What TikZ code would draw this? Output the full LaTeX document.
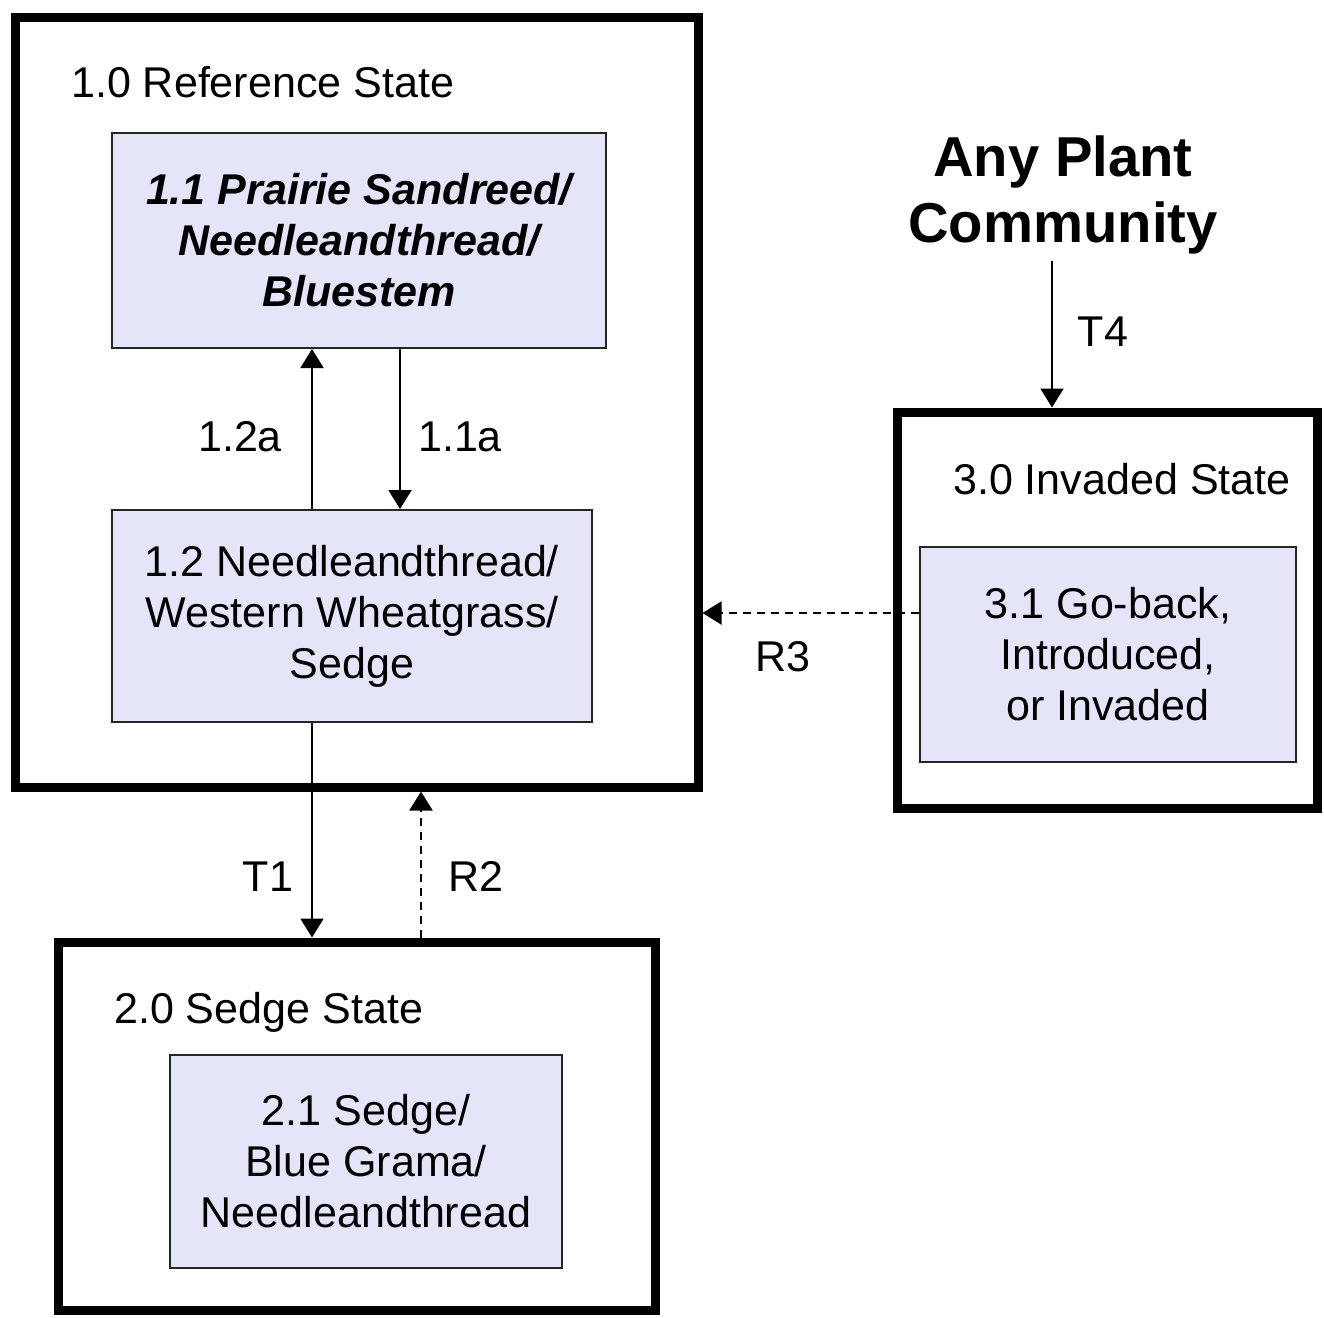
\documentclass[tikz,border=0pt]{standalone}
\usepackage{fontspec}
\setmainfont{Liberation Sans}
\usetikzlibrary{arrows.meta}
\definecolor{lavender}{RGB}{229,229,250}
\tikzset{
	statebox/.style={draw=black, line width=1.8mm, inner sep=0pt},
	commbox/.style={draw=black!85, fill=lavender, line width=0.4mm, align=center, inner sep=0pt, font=\fontsize{24.5}{29}\selectfont},
	lbl/.style={font=\fontsize{24.5}{29}\selectfont},
	trans/.style={-{Triangle[width=4.6mm,length=3.8mm]}, line width=0.4mm},
	rest/.style={trans, dash pattern=on 1.6mm off 1.2mm}
}

\begin{document}
\begin{tikzpicture}
				\useasboundingbox (0,0) rectangle (26.48,-26.34);
				
				\node[statebox, minimum width=13.66cm, minimum height=15.4cm] (ref) at (7.13,-8.04) {};
				\node[statebox, minimum width=11.94cm, minimum height=7.36cm] (sedge) at (7.13,-22.52) {};
				\node[statebox, minimum width=8.4cm, minimum height=7.92cm] (inv) at (22.14,-12.2) {};
				
				\node[lbl, anchor=base west] (reflbl) at (1.3,-1.94) {1.0 Reference State};
				\node[lbl, anchor=base west] (sedgelbl) at (2.16,-20.46) {2.0 Sedge State};
				\node[lbl, anchor=base west] (invlbl) at (18.94,-9.88) {3.0 Invaded State};
				
				\node[commbox, minimum width=9.88cm, minimum height=4.3cm, font=\fontsize{24.5}{29}\selectfont\bfseries\itshape] (c11) at (7.18,-4.81) {1.1 Prairie Sandreed/\\Needleandthread/\\Bluestem};
				\node[commbox, minimum width=9.6cm, minimum height=4.24cm] (c12) at (7.04,-12.32) {1.2 Needleandthread/\\Western Wheatgrass/\\Sedge};
				\node[commbox, minimum width=7.84cm, minimum height=4.26cm] (c21) at (7.32,-23.23) {2.1 Sedge/\\Blue Grama/\\Needleandthread};
				\node[commbox, minimum width=7.52cm, minimum height=4.3cm] (c31) at (22.16,-13.09) {3.1 Go-back,\\Introduced,\\or Invaded};
				
				\node[align=center, font=\fontsize{32}{38}\selectfont\bfseries] (any) at (21.26,-3.9) {Any Plant\\Community};
				
				\coordinate (xl) at (6.24,0);
				\coordinate (xr) at (8.0,0);
				\coordinate (xrb) at (8.42,0);
				\coordinate (xt) at (21.04,0);
				\coordinate (yr) at (0,-12.26);
				
				\draw[trans] (c12.north -| xl) -- (c11.south -| xl);
				\draw[trans] (c11.south -| xr) -- (c12.north -| xr);
				\draw[trans] (c12.south -| xl) -- (sedge.north -| xl);
				\draw[rest] (sedge.north -| xrb) -- (ref.south -| xrb);
				\draw[rest] (c31.west |- yr) -- (ref.east |- yr);
				\draw[trans] (any.south -| xt) -- (inv.north -| xt);
				
				\node[lbl, anchor=base] (l12a) at (4.8,-9.02) {1.2a};
				\node[lbl, anchor=base] (l11a) at (9.2,-9.02) {1.1a};
				\node[lbl, anchor=base] (lt1) at (5.36,-17.82) {T1};
				\node[lbl, anchor=base] (lr2) at (9.52,-17.82) {R2};
				\node[lbl, anchor=base] (lr3) at (15.66,-13.42) {R3};
				\node[lbl, anchor=base] (lt4) at (22.06,-6.92) {T4};
\end{tikzpicture}
\end{document}
